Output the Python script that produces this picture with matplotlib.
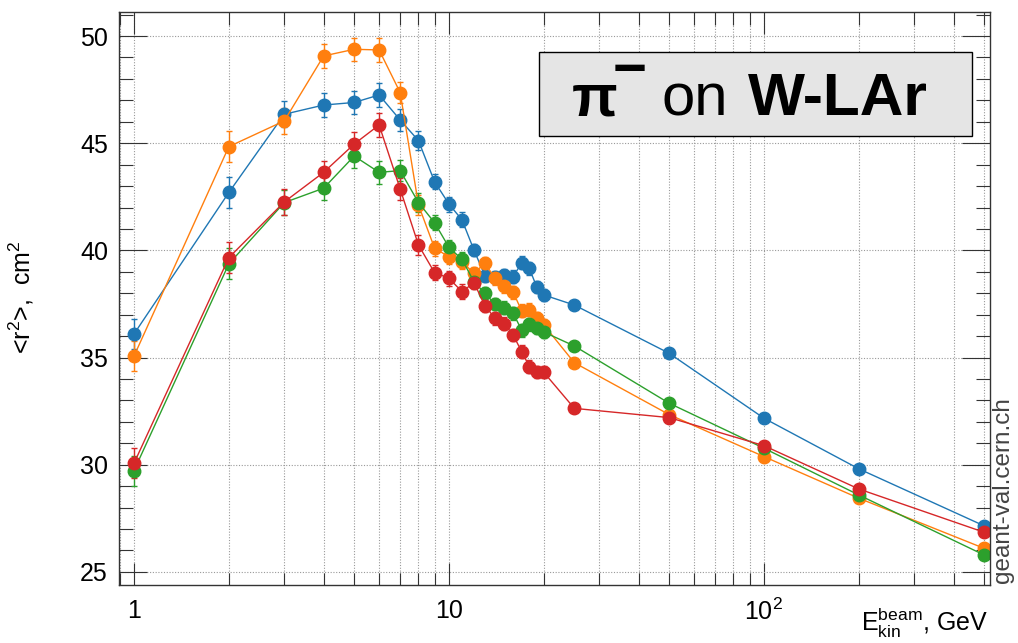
import matplotlib
matplotlib.use("Agg")
import matplotlib.pyplot as plt
from matplotlib.patches import Rectangle
from matplotlib.ticker import FixedLocator, FixedFormatter, MultipleLocator, LogLocator, NullFormatter

plt.rcParams['font.family'] = ['Liberation Sans', 'DejaVu Sans']
plt.rcParams['mathtext.fontset'] = 'custom'
plt.rcParams['mathtext.rm'] = 'Liberation Sans'
plt.rcParams['mathtext.it'] = 'Liberation Sans:italic'
plt.rcParams['mathtext.bf'] = 'Liberation Sans:bold'

# ---------------- data ----------------
energy = [1, 2, 3, 4, 5, 6, 7, 8, 9, 10, 11, 12, 13, 14, 15, 16, 17, 18, 19, 20, 25, 50, 100, 200, 500]

blue = [36.10, 42.70, 46.35, 46.78, 46.90, 47.25, 46.08, 45.12, 43.20, 42.16, 41.42, 40.02, 38.82,
        38.75, 38.85, 38.77, 39.42, 39.16, 38.28, 37.92, 37.45, 35.20, 32.17, 29.81, 27.15]
orange = [35.07, 44.84, 46.04, 49.07, 49.38, 49.35, 47.36, 42.12, 40.10, 39.70, 39.47, 38.93, 39.40,
          38.70, 38.32, 38.05, 37.18, 37.24, 36.83, 36.52, 34.76, 32.34, 30.38, 28.44, 26.10]
green = [29.73, 39.37, 42.23, 42.90, 44.40, 43.64, 43.72, 42.23, 41.29, 40.14, 39.58, 38.54, 38.00,
         37.50, 37.33, 37.07, 36.28, 36.56, 36.40, 36.19, 35.54, 32.87, 30.77, 28.59, 25.79]
red = [30.07, 39.66, 42.26, 43.64, 44.96, 45.85, 42.86, 40.25, 38.96, 38.70, 38.07, 38.50, 37.42,
       36.83, 36.57, 36.05, 35.28, 34.58, 34.34, 34.31, 32.63, 32.20, 30.89, 28.87, 26.85]
err = [0.70, 0.72, 0.60, 0.55, 0.55, 0.55, 0.50, 0.45, 0.35, 0.35, 0.35, 0.30, 0.30,
       0.30, 0.30, 0.30, 0.30, 0.30, 0.28, 0.28, 0.15, 0.10, 0.10, 0.10, 0.10]

series = [("blue", blue, "#1f77b4"), ("orange", orange, "#ff7f0e"),
          ("green", green, "#2ca02c"), ("red", red, "#d62728")]

xticks = [1, 10, 100]
xticklabels = ["1", "10", "$10^2$"]
yticks = [25, 30, 35, 40, 45, 50]

W, H = 1018, 643
fig = plt.figure(figsize=(W / 100, H / 100), dpi=100)
ax = fig.add_axes([119 / W, 58 / H, 871 / W, 573 / H])

for name, vals, col in series:
    ax.errorbar(energy, vals, yerr=err, color=col, marker='o', markersize=9,
                lw=1.0, elinewidth=1.0, capsize=2, capthick=1.0, label=name)

ax.set_xscale('log')
ax.set_xlim(0.896, 522)
ax.set_ylim(24.39, 51.12)

ax.xaxis.set_major_locator(FixedLocator(xticks))
ax.xaxis.set_major_formatter(FixedFormatter(xticklabels))
ax.xaxis.set_minor_locator(LogLocator(base=10, subs=[2, 3, 4, 5, 6, 7, 8, 9]))
ax.xaxis.set_minor_formatter(NullFormatter())
ax.yaxis.set_major_locator(FixedLocator(yticks))
ax.yaxis.set_minor_locator(MultipleLocator(1))

ax.tick_params(which='both', direction='in', top=True, right=True, labelsize=18, width=0.8, color='#333333')
ax.tick_params(axis='y', which='major', length=20, pad=8)
ax.tick_params(axis='y', which='minor', length=10)
ax.tick_params(axis='x', which='major', length=16, pad=10)
ax.tick_params(axis='x', which='minor', length=9)

ax.grid(True, which='major', axis='both', color='#999999', linestyle=(0, (1, 1.5)), lw=0.8)
ax.grid(True, which='minor', axis='x', color='#999999', linestyle=(0, (1, 1.5)), lw=0.8)
ax.set_axisbelow(True)
for s in ax.spines.values():
    s.set_linewidth(1.0)
    s.set_color('#333333')

# axis labels
fig.text(21 / W, 1 - 297 / H, "<r$^2$>,  cm$^2$", rotation=90, ha='center', va='center', fontsize=18)
fig.text(988 / W, 1 - 631 / H, r"E$_{\mathrm{kin}}^{\mathrm{beam}}$, GeV", ha='right', va='baseline', fontsize=18)

# watermark
fig.text(1003 / W, 60 / H, "geant-val.cern.ch", rotation=90, ha='center', va='bottom',
         fontsize=17.5, color='#444444')

# title box
fig.patches.append(Rectangle((539 / W, 1 - 136 / H), 432.7 / W, 84.3 / H, transform=fig.transFigure,
                             facecolor='#e5e5e5', edgecolor='black', lw=1.0, figure=fig))
base = 1 - 115 / H
fig.text(572 / W, base, "π", fontsize=43, fontweight='bold', ha='left', va='baseline')
fig.text(630 / W, 1 - 87 / H, "−", fontsize=42, fontweight='bold', ha='center', va='baseline')
fig.text(661 / W, base, "on", fontsize=43, ha='left', va='baseline')
fig.text(748 / W, base, "W-LAr", fontsize=43.5, fontweight='bold', ha='left', va='baseline')

fig.savefig("out.png", dpi=100)
